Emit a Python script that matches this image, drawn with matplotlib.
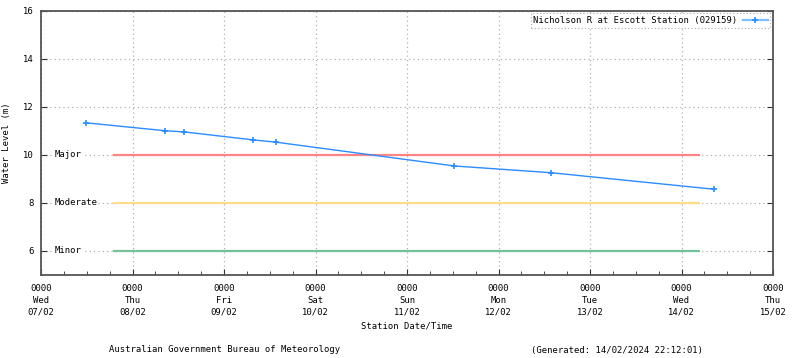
from datetime import datetime

import matplotlib

matplotlib.use("Agg")
import matplotlib.dates as mdates
import matplotlib.pyplot as plt

# river level readings
obs_times = [
    "2024-02-07 11:45", "2024-02-08 08:30", "2024-02-08 13:30", "2024-02-09 07:30",
    "2024-02-09 13:45", "2024-02-11 12:25", "2024-02-12 13:45", "2024-02-14 08:35",
]
obs_levels = [11.33, 11.00, 10.95, 10.62, 10.52, 9.53, 9.25, 8.56]

# flood classification levels
flood_names = ["Major", "Moderate", "Minor"]
flood_levels = [10.0, 8.0, 6.0]
flood_colors = ["#ff8585", "#ffdd8a", "#74c29c"]
flood_span = ["2024-02-07 19:00", "2024-02-14 04:45"]

axis_start = "2024-02-07 00:00"
axis_end = "2024-02-15 00:00"
y_ticks = [6, 8, 10, 12, 14, 16]

FONT = "DejaVu Sans Mono"
FS = 6.4


def parse(value: str) -> datetime:
    return datetime.strptime(value, "%Y-%m-%d %H:%M")


plt.rcParams["font.family"] = FONT
plt.rcParams["font.size"] = FS

fig = plt.figure(figsize=(8.0, 3.58), dpi=100)
ax = fig.add_axes([41 / 800, 1 - 274.7 / 358, 732 / 800, 264 / 358])

x0, x1 = parse(axis_start), parse(axis_end)
ax.set_xlim(x0, x1)
ax.set_ylim(5, 16)

ax.grid(True, which="major", color="#b0b0b0", linestyle=(0, (1, 2.5)), linewidth=0.9)
ax.set_axisbelow(True)

span = [parse(v) for v in flood_span]
for name, level, color in zip(flood_names, flood_levels, flood_colors):
    ax.plot(span, [level, level], color=color, linewidth=1.6, solid_capstyle="butt", zorder=2)
    ax.text(0.018, level, name, transform=ax.get_yaxis_transform(), ha="left", va="center",
            fontsize=FS, bbox=dict(facecolor="white", edgecolor="none", pad=0.6), zorder=3)

times = [parse(v) for v in obs_times]
ax.plot(times, obs_levels, color="#2a8cff", linewidth=1.0, marker="+", markersize=4,
        markeredgewidth=1.2, label="Nicholson R at Escott Station (029159)", zorder=4)

ax.xaxis.set_major_locator(mdates.DayLocator())
ax.xaxis.set_minor_locator(mdates.HourLocator(byhour=[6, 12, 18]))
ax.xaxis.set_major_formatter(mdates.DateFormatter("%H%M\n%a\n%d/%m"))
ax.set_yticks(y_ticks)

ax.tick_params(axis="both", which="both", direction="in", colors="#333333", labelcolor="black",
               labelsize=FS)
ax.tick_params(axis="x", which="major", length=4, pad=7, top=False)
ax.tick_params(axis="x", which="minor", length=3, top=False)
ax.tick_params(axis="y", which="major", length=4, right=True, pad=5)
for label in ax.get_xticklabels():
    label.set_linespacing(1.35)

for side, spine in ax.spines.items():
    spine.set_color("#555555")
    spine.set_linewidth(1.3)

ax.set_ylabel("Water Level (m)", fontsize=FS, labelpad=9)
ax.set_xlabel("Station Date/Time", fontsize=FS, labelpad=4)

legend = ax.legend(loc="upper right", markerfirst=False, fontsize=FS, frameon=True,
                   fancybox=False, borderaxespad=0.3, handlelength=2.8, borderpad=0.3,
                   handletextpad=0.6)
frame = legend.get_frame()
frame.set_edgecolor("#999999")
frame.set_linestyle((0, (1, 2)))
frame.set_linewidth(0.8)
for line in legend.get_lines():
    line.set_color("#7fbfff")
    line.set_linewidth(1.6)
    line.set_markeredgecolor("#2a8cff")

fig.text(225 / 800, 1 - 350 / 358, "Australian Government Bureau of Meteorology",
         ha="center", va="center", fontsize=FS)
fig.text(617 / 800, 1 - 350 / 358, "(Generated: 14/02/2024 22:12:01)",
         ha="center", va="center", fontsize=FS)

fig.savefig("out.png", dpi=100)
